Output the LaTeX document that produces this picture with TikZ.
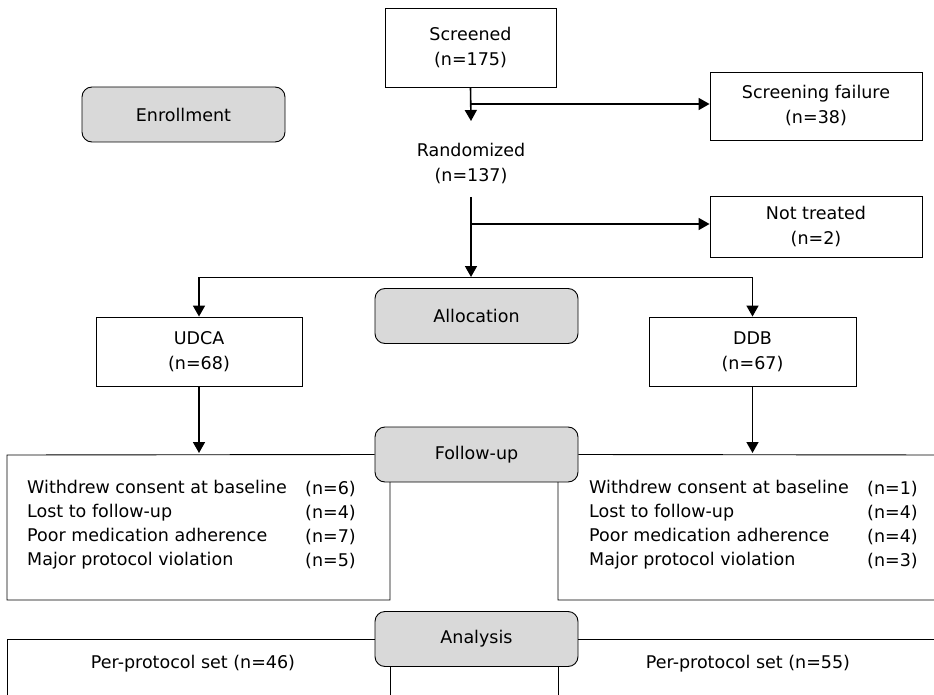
\documentclass[tikz,border=0pt]{standalone}
\usepackage{fontspec}
\setmainfont{DejaVu Sans}
\usetikzlibrary{arrows.meta,positioning}

\begin{document}
\begin{tikzpicture}[x=1pt,y=-1pt,>={Triangle[length=11pt,width=12pt]},
	every node/.style={font=\fontsize{17.5}{25}\selectfont},
	box/.style={draw,line width=0.9pt,align=center,inner sep=0pt},
	stage/.style={draw,line width=0.9pt,rounded corners=10pt,fill=gray!30,
		minimum width=203pt,minimum height=55pt,inner sep=0pt},
	flow/.style={->,line width=1.6pt},
	frame/.style={line width=0.9pt},
	list/.style={align=left,inner sep=0pt,anchor=west,font=\fontsize{17.5}{24}\selectfont}
	]
	\useasboundingbox (0,0) rectangle (934,695);
	\clip (0,0) rectangle (934,695);

	\node[stage] (enroll) at (183.5,114.5) {Enrollment};
	\node[stage] (alloc) at (476.5,316) {Allocation};
	\node[stage] (follow) at (476.5,454.5) {Follow-up};
	\node[stage] (analysis) at (476.5,639) {Analysis};

	\node[box,minimum width=171pt,minimum height=79pt] (screened) at (470.5,47.5) {Screened\\(n=175)};
	\node[box,minimum width=212pt,minimum height=68pt] (fail) at (816,106) {Screening failure\\(n=38)};
	\node[align=center,inner sep=0pt] (rand) at (471,163.5) {Randomized\\(n=137)};
	\node[box,minimum width=212pt,minimum height=61pt] (nottreated) at (816,226.5) {Not treated\\(n=2)};
	\node[box,minimum width=206pt,minimum height=69pt] (udca) at (199,351.5) {UDCA\\(n=68)};
	\node[box,minimum width=207pt,minimum height=69pt] (ddb) at (752.5,351.5) {DDB\\(n=67)};

	\coordinate (randin) at (471,121);
	\coordinate (randout) at (471,197);
	\coordinate (split) at (471,277);
	\coordinate (udcaend) at (199,453);
	\coordinate (ddbend) at (752.5,453);

	\draw[flow] (screened.south) -- (randin);
	\draw[flow] (screened.south |- 0,104) -- (fail.west |- 0,104);
	\draw[flow] (randout) -- (split);
	\draw[flow] (randout |- 0,224) -- (nottreated.west |- 0,224);
	\draw[frame] (udca.north |- split) -- (ddb.north |- split);
	\draw[flow] (udca.north |- split) -- (udca.north);
	\draw[flow] (ddb.north |- split) -- (ddb.north);
	\draw[flow] (udca.south) -- (udcaend);
	\draw[flow] (ddb.south) -- (ddbend);

	\draw[frame] (follow.west) -- (7,455) -- (7,600) -- (390,600) -- (390,482);
	\draw[frame] (follow.east) -- (945,455) -- (945,600) -- (558,600) -- (558,482);
	\draw[frame] (analysis.west) -- (7,639) -- (7,710);
	\draw[frame] (390,666) -- (390,710);
	\draw[frame] (558,666) -- (558,710);
	\draw[frame] (analysis.east) -- (945,639) -- (945,710);

	\node[list] (ureasons) at (27,525) {Withdrew consent at baseline\\Lost to follow-up\\Poor medication adherence\\Major protocol violation};
	\node[list] (ucounts) at (305,525) {(n=6)\\(n=4)\\(n=7)\\(n=5)};
	\node[list] (dreasons) at (589,525) {Withdrew consent at baseline\\Lost to follow-up\\Poor medication adherence\\Major protocol violation};
	\node[list] (dcounts) at (867,525) {(n=1)\\(n=4)\\(n=4)\\(n=3)};

	\node[inner sep=0pt] (uset) at (193,664) {Per-protocol set (n=46)};
	\node[inner sep=0pt] (dset) at (748,664) {Per-protocol set (n=55)};

\end{tikzpicture}
\end{document}
